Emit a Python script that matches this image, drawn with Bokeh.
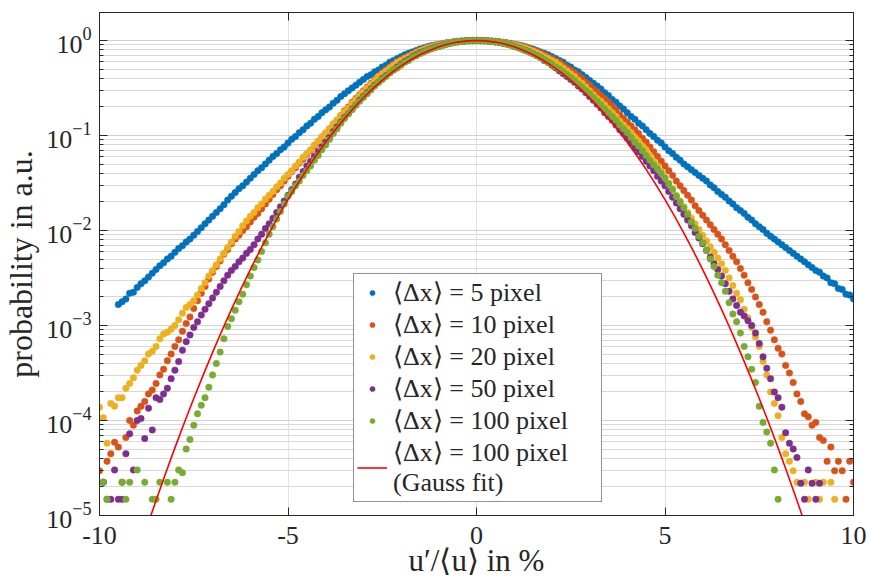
from bokeh.plotting import figure
from bokeh.models import (Range1d, LogAxis, LinearAxis, Legend, LegendItem,
                          FixedTicker, ColumnDataSource, CustomJSTickFormatter)
from bokeh.embed import file_html
from bokeh.resources import INLINE

# ---------------- data ----------------
# bin centres of u'/<u> in %
u_bins = [
    -10.0, -9.9, -9.8, -9.7, -9.6, -9.5, -9.4, -9.3, -9.2, -9.1,
    -9.0, -8.9, -8.8, -8.7, -8.6, -8.5, -8.4, -8.3, -8.2, -8.1,
    -8.0, -7.9, -7.8, -7.7, -7.6, -7.5, -7.4, -7.3, -7.2, -7.1,
    -7.0, -6.9, -6.8, -6.7, -6.6, -6.5, -6.4, -6.3, -6.2, -6.1,
    -6.0, -5.9, -5.8, -5.7, -5.6, -5.5, -5.4, -5.3, -5.2, -5.1,
    -5.0, -4.9, -4.8, -4.7, -4.6, -4.5, -4.4, -4.3, -4.2, -4.1,
    -4.0, -3.9, -3.8, -3.7, -3.6, -3.5, -3.4, -3.3, -3.2, -3.1,
    -3.0, -2.9, -2.8, -2.7, -2.6, -2.5, -2.4, -2.3, -2.2, -2.1,
    -2.0, -1.9, -1.8, -1.7, -1.6, -1.5, -1.4, -1.3, -1.2, -1.1,
    -1.0, -0.9, -0.8, -0.7, -0.6, -0.5, -0.4, -0.3, -0.2, -0.1,
    0.0, 0.1, 0.2, 0.3, 0.4, 0.5, 0.6, 0.7, 0.8, 0.9,
    1.0, 1.1, 1.2, 1.3, 1.4, 1.5, 1.6, 1.7, 1.8, 1.9,
    2.0, 2.1, 2.2, 2.3, 2.4, 2.5, 2.6, 2.7, 2.8, 2.9,
    3.0, 3.1, 3.2, 3.3, 3.4, 3.5, 3.6, 3.7, 3.8, 3.9,
    4.0, 4.1, 4.2, 4.3, 4.4, 4.5, 4.6, 4.7, 4.8, 4.9,
    5.0, 5.1, 5.2, 5.3, 5.4, 5.5, 5.6, 5.7, 5.8, 5.9,
    6.0, 6.1, 6.2, 6.3, 6.4, 6.5, 6.6, 6.7, 6.8, 6.9,
    7.0, 7.1, 7.2, 7.3, 7.4, 7.5, 7.6, 7.7, 7.8, 7.9,
    8.0, 8.1, 8.2, 8.3, 8.4, 8.5, 8.6, 8.7, 8.8, 8.9,
    9.0, 9.1, 9.2, 9.3, 9.4, 9.5, 9.6, 9.7, 9.8, 9.9,
    10.0,
]

# decade exponent (log10 of probability) per bin; None = empty bin
exp_5px = [
    None, None, None, None, None, -2.78, -2.75, -2.72, -2.66, -2.65,
    -2.60, -2.56, -2.53, -2.49, -2.45, -2.41, -2.37, -2.34, -2.30, -2.27,
    -2.23, -2.19, -2.16, -2.12, -2.09, -2.05, -2.01, -1.97, -1.93, -1.89,
    -1.85, -1.81, -1.77, -1.73, -1.68, -1.64, -1.60, -1.56, -1.53, -1.49,
    -1.45, -1.41, -1.37, -1.34, -1.30, -1.26, -1.22, -1.19, -1.15, -1.12,
    -1.08, -1.04, -1.01, -0.97, -0.94, -0.90, -0.87, -0.83, -0.80, -0.76,
    -0.73, -0.70, -0.66, -0.63, -0.59, -0.56, -0.53, -0.50, -0.47, -0.44,
    -0.41, -0.38, -0.36, -0.33, -0.31, -0.28, -0.26, -0.23, -0.21, -0.19,
    -0.17, -0.15, -0.135, -0.12, -0.105, -0.09, -0.08, -0.065, -0.055, -0.047,
    -0.04, -0.032, -0.025, -0.019, -0.014, -0.01, -0.006, -0.004, -0.002, -0.001,
    0.0, -0.001, -0.002, -0.004, -0.006, -0.01, -0.014, -0.019, -0.025, -0.032,
    -0.04, -0.047, -0.055, -0.065, -0.08, -0.09, -0.105, -0.12, -0.135, -0.15,
    -0.17, -0.19, -0.21, -0.23, -0.26, -0.28, -0.31, -0.33, -0.36, -0.39,
    -0.42, -0.45, -0.48, -0.51, -0.55, -0.58, -0.62, -0.65, -0.69, -0.72,
    -0.76, -0.80, -0.83, -0.87, -0.90, -0.94, -0.98, -1.01, -1.05, -1.08,
    -1.12, -1.16, -1.19, -1.23, -1.26, -1.30, -1.33, -1.36, -1.39, -1.42,
    -1.45, -1.48, -1.52, -1.55, -1.59, -1.62, -1.65, -1.69, -1.72, -1.76,
    -1.79, -1.82, -1.86, -1.89, -1.93, -1.96, -1.99, -2.03, -2.06, -2.09,
    -2.12, -2.15, -2.18, -2.21, -2.24, -2.27, -2.30, -2.33, -2.36, -2.39,
    -2.42, -2.44, -2.48, -2.50, -2.55, -2.56, -2.61, -2.62, -2.67, -2.68,
    -2.72,
]

exp_10px = [
    -4.53, -4.65, -4.43, -4.35, -4.23, -4.28, -4.65, -4.18, -4.00, -4.05,
    -3.90, -3.85, -3.80, -3.72, -3.68, -3.61, -3.52, -3.46, -3.37, -3.30,
    -3.22, -3.15, -3.06, -2.98, -2.91, -2.82, -2.74, -2.66, -2.59, -2.51,
    -2.44, -2.38, -2.32, -2.25, -2.20, -2.14, -2.09, -2.05, -2.00, -1.96,
    -1.91, -1.86, -1.82, -1.77, -1.72, -1.67, -1.62, -1.57, -1.53, -1.48,
    -1.43, -1.38, -1.34, -1.29, -1.25, -1.20, -1.16, -1.11, -1.07, -1.02,
    -0.98, -0.93, -0.88, -0.84, -0.79, -0.74, -0.70, -0.65, -0.61, -0.57,
    -0.53, -0.49, -0.45, -0.41, -0.37, -0.34, -0.31, -0.28, -0.25, -0.22,
    -0.20, -0.18, -0.16, -0.14, -0.12, -0.10, -0.09, -0.075, -0.065, -0.055,
    -0.045, -0.036, -0.028, -0.021, -0.015, -0.01, -0.007, -0.004, -0.002, -0.001,
    0.0, -0.001, -0.002, -0.004, -0.007, -0.01, -0.014, -0.02, -0.026, -0.033,
    -0.04, -0.05, -0.06, -0.07, -0.085, -0.10, -0.115, -0.13, -0.15, -0.17,
    -0.19, -0.21, -0.23, -0.26, -0.29, -0.31, -0.34, -0.37, -0.40, -0.44,
    -0.47, -0.51, -0.54, -0.58, -0.61, -0.65, -0.69, -0.73, -0.78, -0.82,
    -0.86, -0.90, -0.94, -0.98, -1.03, -1.07, -1.12, -1.17, -1.22, -1.27,
    -1.32, -1.37, -1.42, -1.48, -1.53, -1.58, -1.63, -1.68, -1.74, -1.79,
    -1.84, -1.89, -1.94, -1.99, -2.04, -2.09, -2.15, -2.21, -2.27, -2.33,
    -2.40, -2.47, -2.55, -2.62, -2.70, -2.78, -2.86, -2.96, -3.05, -3.15,
    -3.24, -3.30, -3.42, -3.50, -3.60, -3.72, -3.80, -3.93, -3.96, -4.05,
    -4.02, -4.18, -4.21, -4.43, -4.28, -4.53, -4.43, -4.53, -4.83, -4.43,
    -4.65,
]

exp_20px = [
    -3.86, -3.97, -4.24, -3.82, -3.85, -3.76, -3.76, -3.66, -3.61, -3.55,
    -3.47, -3.42, -3.37, -3.30, -3.27, -3.22, -3.14, -3.09, -3.07, -3.04,
    -3.00, -2.94, -2.87, -2.81, -2.78, -2.74, -2.68, -2.61, -2.55, -2.48,
    -2.42, -2.36, -2.30, -2.24, -2.18, -2.12, -2.06, -2.01, -1.95, -1.90,
    -1.85, -1.81, -1.76, -1.72, -1.67, -1.63, -1.59, -1.54, -1.50, -1.45,
    -1.41, -1.37, -1.32, -1.28, -1.23, -1.19, -1.15, -1.10, -1.06, -1.01,
    -0.97, -0.93, -0.88, -0.84, -0.79, -0.75, -0.71, -0.66, -0.62, -0.58,
    -0.54, -0.50, -0.46, -0.42, -0.38, -0.35, -0.32, -0.29, -0.26, -0.23,
    -0.21, -0.19, -0.17, -0.15, -0.13, -0.11, -0.095, -0.08, -0.068, -0.056,
    -0.045, -0.036, -0.029, -0.022, -0.016, -0.012, -0.008, -0.005, -0.002, -0.001,
    0.0, -0.001, -0.002, -0.005, -0.008, -0.012, -0.017, -0.023, -0.03, -0.037,
    -0.045, -0.056, -0.068, -0.08, -0.095, -0.11, -0.13, -0.15, -0.17, -0.19,
    -0.21, -0.23, -0.26, -0.29, -0.32, -0.35, -0.38, -0.42, -0.45, -0.49,
    -0.53, -0.57, -0.61, -0.64, -0.68, -0.72, -0.76, -0.80, -0.85, -0.89,
    -0.93, -0.97, -1.02, -1.06, -1.11, -1.15, -1.21, -1.27, -1.32, -1.38,
    -1.44, -1.50, -1.56, -1.63, -1.69, -1.75, -1.81, -1.87, -1.93, -1.99,
    -2.05, -2.11, -2.17, -2.23, -2.29, -2.35, -2.42, -2.50, -2.58, -2.66,
    -2.73, -2.83, -2.92, -3.02, -3.12, -3.22, -3.38, -3.52, -3.70, -3.82,
    -3.95, -4.18, -4.35, -4.43, -4.53, -4.65, None, -4.65, -4.83, None,
    -4.65, -4.83, -4.65, None, -4.65, -4.83, None, None, None, None,
    None,
]

exp_50px = [
    None, -4.65, -4.83, -4.83, -4.52, -4.83, -4.83, -4.35, -4.14, -4.52,
    -4.00, -3.98, -4.19, -3.87, -4.10, -3.76, -3.78, -3.72, -3.66, -3.56,
    -3.47, -3.38, -3.26, -3.17, -3.10, -3.02, -2.96, -2.89, -2.83, -2.77,
    -2.71, -2.65, -2.59, -2.53, -2.47, -2.42, -2.38, -2.33, -2.29, -2.24,
    -2.20, -2.15, -2.09, -2.04, -1.98, -1.93, -1.87, -1.81, -1.75, -1.69,
    -1.63, -1.57, -1.51, -1.44, -1.38, -1.32, -1.27, -1.22, -1.17, -1.12,
    -1.07, -1.02, -0.96, -0.91, -0.86, -0.81, -0.77, -0.72, -0.68, -0.63,
    -0.59, -0.55, -0.51, -0.47, -0.44, -0.40, -0.37, -0.34, -0.31, -0.28,
    -0.25, -0.22, -0.20, -0.17, -0.15, -0.13, -0.115, -0.10, -0.085, -0.07,
    -0.06, -0.048, -0.038, -0.029, -0.021, -0.015, -0.01, -0.006, -0.003, -0.001,
    0.0, -0.001, -0.003, -0.006, -0.01, -0.015, -0.021, -0.029, -0.038, -0.048,
    -0.06, -0.075, -0.09, -0.105, -0.12, -0.14, -0.16, -0.18, -0.21, -0.23,
    -0.26, -0.29, -0.32, -0.35, -0.38, -0.41, -0.44, -0.48, -0.51, -0.55,
    -0.59, -0.63, -0.67, -0.71, -0.76, -0.80, -0.84, -0.89, -0.94, -0.98,
    -1.03, -1.08, -1.13, -1.17, -1.22, -1.27, -1.32, -1.37, -1.43, -1.48,
    -1.53, -1.59, -1.65, -1.71, -1.77, -1.83, -1.89, -1.95, -2.02, -2.08,
    -2.14, -2.21, -2.28, -2.35, -2.41, -2.48, -2.56, -2.64, -2.72, -2.79,
    -2.86, -2.90, -2.95, -3.00, -3.08, -3.19, -3.33, -3.45, -3.56, -3.70,
    -3.76, -3.86, -4.13, -4.24, -4.30, -4.39, -4.66, -4.83, -4.52, -4.66,
    -4.83, -4.66, None, None, None, None, None, None, None, None,
    None,
]

exp_100px = [
    None, -4.65, -4.83, None, None, None, -4.65, -4.83, -4.65, None,
    -4.52, None, -4.65, None, -4.83, -4.83, -4.65, None, -4.65, -4.83,
    -4.65, -4.52, -4.55, -4.30, -4.20, -4.05, -3.93, -3.84, -3.76, -3.65,
    -3.52, -3.40, -3.28, -3.14, -3.01, -2.93, -2.84, -2.75, -2.67, -2.57,
    -2.48, -2.39, -2.31, -2.22, -2.13, -2.04, -1.96, -1.88, -1.80, -1.72,
    -1.64, -1.59, -1.53, -1.48, -1.42, -1.37, -1.32, -1.26, -1.21, -1.15,
    -1.10, -1.04, -0.98, -0.93, -0.87, -0.82, -0.77, -0.73, -0.68, -0.64,
    -0.60, -0.56, -0.52, -0.48, -0.44, -0.41, -0.38, -0.34, -0.31, -0.29,
    -0.26, -0.23, -0.21, -0.18, -0.16, -0.14, -0.12, -0.105, -0.09, -0.077,
    -0.065, -0.053, -0.042, -0.032, -0.023, -0.016, -0.01, -0.006, -0.003, -0.001,
    0.0, -0.001, -0.003, -0.006, -0.01, -0.015, -0.021, -0.029, -0.038, -0.048,
    -0.06, -0.075, -0.09, -0.105, -0.12, -0.14, -0.16, -0.18, -0.20, -0.23,
    -0.25, -0.28, -0.30, -0.33, -0.36, -0.39, -0.42, -0.46, -0.49, -0.53,
    -0.56, -0.60, -0.64, -0.68, -0.72, -0.76, -0.80, -0.84, -0.89, -0.93,
    -0.97, -1.02, -1.07, -1.11, -1.16, -1.21, -1.26, -1.31, -1.35, -1.40,
    -1.45, -1.51, -1.57, -1.64, -1.70, -1.76, -1.83, -1.91, -1.98, -2.06,
    -2.13, -2.21, -2.30, -2.38, -2.47, -2.55, -2.64, -2.76, -2.88, -2.96,
    -3.08, -3.22, -3.33, -3.46, -3.60, -3.85, -4.02, -4.12, -4.24, -4.52,
    -4.83, None, None, None, None, None, None, None, None, None,
    None, None, None, None, None, None, None, None, None, None,
    None,
]

# Gauss fit of the 100 pixel data (curve)
gauss_u = [
    -8.75, -8.5, -8.25, -8.0, -7.75, -7.5, -7.25, -7.0, -6.75, -6.5, -6.25, -6.0,
    -5.75, -5.5, -5.25, -5.0, -4.75, -4.5, -4.25, -4.0, -3.75, -3.5, -3.25, -3.0,
    -2.75, -2.5, -2.25, -2.0, -1.75, -1.5, -1.25, -1.0, -0.75, -0.5, -0.25, 0.0,
    0.25, 0.5, 0.75, 1.0, 1.25, 1.5, 1.75, 2.0, 2.25, 2.5, 2.75, 3.0,
    3.25, 3.5, 3.75, 4.0, 4.25, 4.5, 4.75, 5.0, 5.25, 5.5, 5.75, 6.0,
    6.25, 6.5, 6.75, 7.0, 7.25, 7.5, 7.75, 8.0, 8.25, 8.5, 8.75,
]
gauss_exp = [
    -5.130, -4.841, -4.560, -4.288, -4.024, -3.769, -3.522, -3.283, -3.053, -2.831, -2.617, -2.412,
    -2.215, -2.027, -1.847, -1.675, -1.512, -1.357, -1.210, -1.072, -0.942, -0.821, -0.708, -0.603,
    -0.507, -0.419, -0.339, -0.268, -0.205, -0.151, -0.105, -0.067, -0.038, -0.017, -0.004, 0.0,
    -0.004, -0.017, -0.038, -0.067, -0.105, -0.151, -0.205, -0.268, -0.339, -0.419, -0.507, -0.603,
    -0.708, -0.821, -0.942, -1.072, -1.210, -1.357, -1.512, -1.675, -1.847, -2.027, -2.215, -2.412,
    -2.617, -2.831, -3.053, -3.283, -3.522, -3.769, -4.024, -4.288, -4.560, -4.841, -5.130,
]

series_labels = [
    "⟨Δx⟩ = 5 pixel",
    "⟨Δx⟩ = 10 pixel",
    "⟨Δx⟩ = 20 pixel",
    "⟨Δx⟩ = 50 pixel",
    "⟨Δx⟩ = 100 pixel",
]
gauss_label = "⟨Δx⟩ = 100 pixel\n(Gauss fit)"
series_colors = ["#0072BD", "#D95319", "#EDB120", "#7E2F8E", "#77AC30"]
gauss_color = "#FF0000"

x_ticks = [-10, -5, 0, 5, 10]
y_ticks = [1e-5, 1e-4, 1e-3, 1e-2, 1e-1, 1e0]
x_title = "u′/⟨u⟩ in %"
y_title = "probability in a.u."

# ---------------- figure ----------------
FONT = "Liberation Serif"
INK = "#262626"

p = figure(width=869, height=587, x_range=Range1d(-10, 10), y_range=Range1d(1e-5, 1.97),
           y_axis_type="log", output_backend="svg", toolbar_location=None,
           min_border_left=99, min_border_right=16, min_border_top=12, min_border_bottom=72)
p.background_fill_color = "white"
p.border_fill_color = "white"
p.outline_line_color = INK
p.outline_line_width = 1

y_minor = [m * t for t in y_ticks[:-1] for m in range(2, 10)]
xt = FixedTicker(ticks=x_ticks)
yt = FixedTicker(ticks=y_ticks, minor_ticks=y_minor)
blank = CustomJSTickFormatter(code="return '';")

def style_axis(ax, show_labels):
    ax.axis_line_color = INK
    ax.major_tick_line_color = INK
    ax.minor_tick_line_color = INK
    ax.major_tick_in = 8
    ax.major_tick_out = 0
    ax.minor_tick_in = 4
    ax.minor_tick_out = 0
    ax.major_label_text_font = FONT
    ax.major_label_text_color = INK
    ax.major_label_text_font_size = "26px"
    if not show_labels:
        ax.formatter = blank
        ax.major_label_standoff = 0

xa = p.xaxis[0]
xa.ticker = xt
style_axis(xa, True)
xa.formatter = CustomJSTickFormatter(code="return tick.toString();")
xa.minor_tick_line_color = None
xa.major_label_standoff = 11
xa.axis_label = x_title
xa.axis_label_text_font = FONT
xa.axis_label_text_font_size = "31px"
xa.axis_label_text_font_style = "normal"
xa.axis_label_text_color = INK
xa.axis_label_standoff = -4

ya = p.yaxis[0]
ya.ticker = yt
style_axis(ya, True)
ya.major_label_standoff = 8
ya.axis_label = y_title
ya.axis_label_text_font = FONT
ya.axis_label_text_font_size = "32px"
ya.axis_label_text_font_style = "normal"
ya.axis_label_text_color = INK
ya.axis_label_standoff = 4

ry = LogAxis(ticker=yt)
style_axis(ry, False)
p.add_layout(ry, "right")

tx = LinearAxis(ticker=xt)
style_axis(tx, False)
tx.minor_tick_line_color = None
p.add_layout(tx, "above")

p.xgrid.ticker = xt
p.xgrid.grid_line_color = "#e2e2e2"
p.ygrid.ticker = yt
p.ygrid.grid_line_color = "#d2d2d2"
p.ygrid.minor_grid_line_color = "#d8d8d8"

# ---------------- marks ----------------
all_exps = [exp_5px, exp_10px, exp_20px, exp_50px, exp_100px]
items = []
for exps, lab, col in zip(all_exps, series_labels, series_colors):
    xs = [u for u, e in zip(u_bins, exps) if e is not None]
    ys = [10.0 ** e for e in exps if e is not None]
    src = ColumnDataSource(dict(u=xs, p=ys))
    r = p.scatter("u", "p", source=src, size=6.5, marker="circle",
                  fill_color=col, line_color=col, line_width=0.5)
    items.append(LegendItem(label=lab, renderers=[r]))

gsrc = ColumnDataSource(dict(u=gauss_u, p=[10.0 ** e for e in gauss_exp]))
rg = p.line("u", "p", source=gsrc, line_color=gauss_color, line_width=1.6)
items.append(LegendItem(label=gauss_label, renderers=[rg]))

legend = Legend(items=items, location=(254, 13), margin=0, padding=3, spacing=1,
                glyph_width=30, glyph_height=13, label_standoff=6,
                label_height=30, label_width=205,
                label_text_font=FONT, label_text_font_size="26px", label_text_color=INK,
                border_line_color=INK, border_line_width=1,
                background_fill_color="white", background_fill_alpha=1.0)
p.add_layout(legend)

open("out.html", "w").write(file_html(p, INLINE))
